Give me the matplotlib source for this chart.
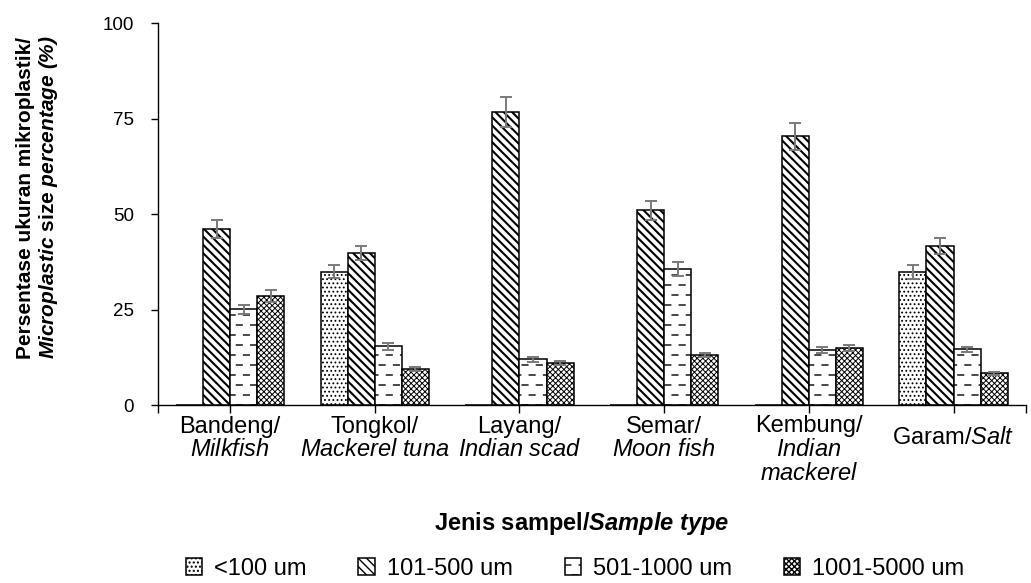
"""
Persentase ukuran mikroplastik per jenis sampel (bar chart berpola)
"""

import numpy as np
import matplotlib
matplotlib.use("Agg")
import matplotlib.pyplot as plt
import matplotlib.hatch as mhatch
from matplotlib.path import Path

# ── DATA ──────────────────────────────────────────────────────────────────
CATEGORIES = [
    "Bandeng/\n$\\it{Milkfish}$",
    "Tongkol/\n$\\it{Mackerel\\ tuna}$",
    "Layang/\n$\\it{Indian\\ scad}$",
    "Semar/\n$\\it{Moon\\ fish}$",
    "Kembung/\n$\\it{Indian}$\n$\\it{mackerel}$",
    "Garam/$\\it{Salt}$",
]
SERIES = ["<100 um", "101-500 um", "501-1000 um", "1001-5000 um"]

lt100     = [0.0, 35.0, 0.0, 0.0, 0.0, 34.8]
s101_500  = [46.1, 39.8, 76.8, 51.0, 70.4, 41.7]
s501_1000 = [25.1, 15.4, 12.0, 35.6, 14.4, 14.6]
s1001_5k  = [28.6, 9.4, 11.1, 13.1, 15.0, 8.4]

err_lt100     = [0.0, 1.8, 0.0, 0.0, 0.0, 1.8]
err_101_500   = [2.4, 1.9, 3.9, 2.6, 3.5, 2.2]
err_501_1000  = [1.2, 1.0, 0.7, 1.8, 0.8, 0.7]
err_1001_5k   = [1.5, 0.5, 0.6, 0.6, 0.8, 0.4]

YTICKS = [0, 25, 50, 75, 100]


# ── HATCH "garis putus" (pengganti '-') ───────────────────────────────────
class DashHatch(mhatch.HatchPatternBase):
    def __init__(self, hatch, density):
        n = hatch.count('-')
        self.rows = 10 * n
        self.cols = 7 * n
        self.num_lines = self.rows * self.cols
        self.num_vertices = 2 * self.num_lines

    def set_vertices_and_codes(self, vertices, codes):
        k = 0
        for r in range(self.rows):
            y = (r + 0.5) / self.rows
            shift = 0.0 if r % 2 == 0 else 0.5
            for c in range(self.cols):
                x0 = (c + shift + 0.05) / self.cols
                x1 = (c + shift + 0.45) / self.cols
                vertices[k] = (x0, y)
                vertices[k + 1] = (x1, y)
                codes[k] = Path.MOVETO
                codes[k + 1] = Path.LINETO
                k += 2


mhatch._hatch_types = [DashHatch if t is mhatch.HorizontalHatch else t
                       for t in mhatch._hatch_types]

# ── STYLE ─────────────────────────────────────────────────────────────────
plt.rcParams['font.family'] = ['Liberation Sans', 'DejaVu Sans']
plt.rcParams['mathtext.fontset'] = 'custom'
plt.rcParams['mathtext.rm'] = 'Liberation Sans'
plt.rcParams['mathtext.it'] = 'Liberation Sans:italic'
plt.rcParams['mathtext.bf'] = 'Liberation Sans:bold'
plt.rcParams['mathtext.bfit'] = 'Liberation Sans:italic:bold'

HATCHES = ['....', '\\\\\\\\', '-', 'xxxxxx']
HATCH_LW = [0.8, 1.5, 1.0, 0.7]

fig = plt.figure(figsize=(10.31, 5.83), dpi=100)
ax = fig.add_axes([0.153, 0.305, 0.842, 0.655])

values = [lt100, s101_500, s501_1000, s1001_5k]
errors = [err_lt100, err_101_500, err_501_1000, err_1001_5k]

x = np.arange(len(CATEGORIES))
w = 0.187
for i, (name, vals, errs, hatch) in enumerate(zip(SERIES, values, errors, HATCHES)):
    pos = x + (i - 1.5) * w
    with plt.rc_context({'hatch.linewidth': HATCH_LW[i]}):
        bars = ax.bar(pos, vals, width=w, color='white', edgecolor='black',
                      linewidth=1.1, hatch=hatch, label=name, zorder=2)
    for b in bars:
        if hasattr(b, 'set_hatch_linewidth'):
            b.set_hatch_linewidth(HATCH_LW[i])
    vals = np.array(vals)
    errs = np.array(errs)
    m = vals > 0
    ax.errorbar(pos[m], vals[m], yerr=errs[m], fmt='none', ecolor='#7a7a7a',
                elinewidth=1.4, capsize=4, capthick=1.4, zorder=3)

# Axe Y
ax.set_ylim(0, 100)
ax.set_yticks(YTICKS)
ax.tick_params(axis='y', labelsize=13.5, length=5, width=1, direction='out', pad=12)

# Axe X
ax.set_xlim(-0.5, len(CATEGORIES) - 0.5)
ax.set_xticks(x)
ax.set_xticklabels([])
ax.set_xticks([-0.5, len(CATEGORIES) - 0.5], minor=True)
ax.tick_params(axis='x', which='both', length=6, width=1, direction='out')

ax.spines['top'].set_visible(False)
ax.spines['right'].set_visible(False)
ax.spines['left'].set_linewidth(1)
ax.spines['bottom'].set_linewidth(1)

trans = ax.get_xaxis_transform()
for xi, lab in zip(x, CATEGORIES):
    n_lines = lab.count('\n') + 1
    if n_lines > 2:
        ax.text(xi, -0.027, lab, transform=trans, ha='center', va='top',
                fontsize=17, linespacing=1.1)
    else:
        ax.text(xi, -0.087, lab, transform=trans, ha='center', va='center',
                fontsize=17, linespacing=1.1)

ax.text(0.488, -0.31, "Jenis sampel/$\\mathbfit{Sample\\ type}$",
        transform=ax.transAxes, ha='center', va='center',
        fontsize=17, fontweight='bold')

fig.text(0.037, 1 - 197 / 583,
         "Persentase ukuran mikroplastik/\n"
         "$\\mathbfit{Microplastic}$ size $\\mathbfit{percentage\\ (\\%)}$",
         rotation=90, ha='center', va='center', multialignment='left',
         fontsize=15, fontweight='bold', linespacing=1.1)

leg = fig.legend(loc='center', bbox_to_anchor=(575 / 1031, 1 - 569 / 583),
                 ncol=4, frameon=False, fontsize=17, handlelength=0.7,
                 handleheight=0.7, handletextpad=0.5, columnspacing=2.2)

plt.savefig("out.png", dpi=100)
